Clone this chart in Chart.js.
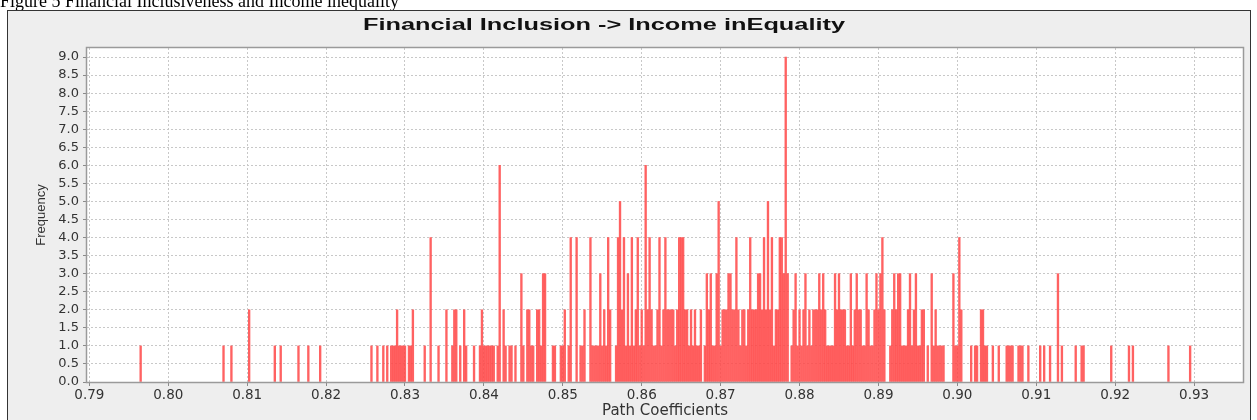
<!DOCTYPE html>
<html>
<head>
<meta charset="utf-8">
<script src="https://cdn.jsdelivr.net/npm/chart.js@4.4.0/dist/chart.umd.min.js"></script>
<style>
  html, body { margin: 0; padding: 0; background: #fff; }
  #wrap { position: relative; width: 1257px; height: 420px; }
</style>
</head>
<body>
<div id="wrap"><canvas id="histograma" width="1257" height="420"></canvas></div>
<script>
// Coeficientes de caminho (centro de cada classe) e frequência observada
const pathCoef = [
  0.7965, 0.8070, 0.8080, 0.81025, 0.8135, 0.81425, 0.8165, 0.81775, 0.81925,
  0.82575, 0.8265, 0.82725, 0.82775, 0.82825, 0.8285, 0.82875, 0.829, 0.82925, 0.8295, 0.82975,
  0.830, 0.8305, 0.83075, 0.831, 0.8325, 0.83325, 0.83425, 0.83525, 0.836, 0.83625, 0.8365,
  0.837, 0.8375, 0.83775, 0.83875, 0.8395, 0.83975, 0.840, 0.84025, 0.8405, 0.84075, 0.841,
  0.84125, 0.84175, 0.842, 0.8425, 0.84275, 0.84325, 0.8435, 0.844, 0.84475, 0.845, 0.8455,
  0.84575, 0.846, 0.84625, 0.84675, 0.847, 0.84725, 0.8475, 0.84775, 0.84875, 0.849, 0.84975,
  0.850, 0.85025, 0.85075, 0.851, 0.85175, 0.85225, 0.8525, 0.85275, 0.8535, 0.85375, 0.854,
  0.85425, 0.8545, 0.85475, 0.855, 0.85525, 0.8555, 0.85575, 0.856, 0.85675, 0.857, 0.85725,
  0.8575, 0.85775, 0.858, 0.85825, 0.8585, 0.85875, 0.859, 0.85925, 0.8595, 0.85975, 0.860,
  0.86025, 0.8605, 0.86075, 0.861, 0.86125, 0.8615, 0.86175, 0.862, 0.86225, 0.8625, 0.86275,
  0.863, 0.86325, 0.8635, 0.86375, 0.864, 0.86425, 0.8645, 0.86475, 0.865, 0.86525, 0.8655,
  0.86575, 0.866, 0.86625, 0.8665, 0.86675, 0.867, 0.86725, 0.8675, 0.868, 0.86825, 0.8685,
  0.86875, 0.869, 0.86925, 0.8695, 0.86975, 0.870, 0.87025, 0.8705, 0.87075, 0.871, 0.87125,
  0.8715, 0.87175, 0.872, 0.87225, 0.8725, 0.87275, 0.873, 0.87325, 0.8735, 0.87375, 0.874,
  0.87425, 0.8745, 0.87475, 0.875, 0.87525, 0.8755, 0.87575, 0.876, 0.87625, 0.8765, 0.87675,
  0.877, 0.87725, 0.8775, 0.87775, 0.878, 0.87825, 0.8785, 0.879, 0.87925, 0.8795, 0.87975,
  0.880, 0.88025, 0.8805, 0.88075, 0.881, 0.88125, 0.8815, 0.88175, 0.882, 0.88225, 0.8825,
  0.88275, 0.883, 0.88325, 0.8835, 0.88375, 0.884, 0.88425, 0.8845, 0.88475, 0.885, 0.88525,
  0.8855, 0.88575, 0.886, 0.88625, 0.8865, 0.88675, 0.887, 0.88725, 0.8875, 0.88775, 0.888,
  0.88825, 0.8885, 0.88875, 0.889, 0.88925, 0.8895, 0.88975, 0.890, 0.89025, 0.8905, 0.89075,
  0.8915, 0.89175, 0.892, 0.89225, 0.8925, 0.89275, 0.893, 0.89325, 0.8935, 0.89375, 0.894,
  0.89425, 0.8945, 0.89475, 0.895, 0.89525, 0.8955, 0.89575, 0.89625, 0.89675, 0.897, 0.89725,
  0.8975, 0.89775, 0.898, 0.89825, 0.8995, 0.89975, 0.900, 0.90025, 0.9005, 0.90175, 0.90225,
  0.9025, 0.903, 0.90325, 0.9035, 0.90375, 0.9045, 0.90525, 0.90625, 0.9065, 0.90675, 0.907,
  0.90775, 0.908, 0.90825, 0.909, 0.9105, 0.911, 0.91175, 0.91275, 0.91325, 0.915, 0.91575,
  0.916, 0.9195, 0.92175, 0.92225, 0.92675, 0.9295
];

const frequencia = [
  1, 1, 1, 2, 1, 1, 1, 1, 1,
  1, 1, 1, 1, 1, 1, 1, 2, 1, 1, 1,
  1, 1, 1, 2, 1, 4, 1, 2, 1, 2, 2,
  1, 2, 1, 1, 1, 2, 1, 1, 1, 1, 1,
  1, 1, 6, 2, 1, 1, 1, 1, 3, 1, 2,
  2, 1, 1, 2, 2, 1, 3, 3, 1, 1, 1,
  1, 2, 1, 4, 4, 1, 1, 2, 4, 1, 1,
  1, 1, 3, 1, 2, 1, 4, 2, 1, 4, 5,
  2, 4, 1, 3, 1, 4, 1, 2, 4, 1, 2,
  1, 6, 2, 4, 2, 1, 1, 2, 4, 1, 2,
  4, 2, 2, 2, 2, 1, 2, 4, 4, 4, 2,
  2, 1, 2, 1, 2, 1, 1, 2, 1, 3, 2,
  3, 1, 1, 3, 5, 1, 2, 2, 2, 3, 3,
  2, 2, 4, 2, 1, 2, 2, 1, 2, 4, 2,
  2, 2, 3, 3, 2, 4, 2, 5, 2, 4, 1,
  2, 2, 4, 4, 3, 9, 3, 1, 2, 3, 1,
  2, 1, 2, 3, 1, 2, 1, 2, 2, 2, 3,
  2, 3, 2, 1, 1, 1, 1, 3, 2, 3, 2,
  2, 2, 1, 1, 3, 1, 2, 3, 2, 2, 1,
  1, 3, 2, 1, 1, 2, 3, 2, 3, 4, 2,
  1, 2, 3, 2, 3, 3, 1, 1, 1, 2, 3,
  1, 2, 3, 1, 1, 2, 2, 1, 3, 1, 2,
  1, 1, 1, 1, 3, 1, 1, 4, 2, 1, 1,
  1, 2, 2, 1, 1, 1, 1, 1, 1, 1, 1,
  1, 1, 1, 1, 1, 1, 1, 3, 1, 1, 1,
  1, 1, 1, 1, 1, 1
];

// Marcas dos eixos
const ticksX = [0.79, 0.80, 0.81, 0.82, 0.83, 0.84, 0.85, 0.86, 0.87, 0.88, 0.89, 0.90, 0.91, 0.92, 0.93];
const ticksY = [0, 0.5, 1, 1.5, 2, 2.5, 3, 3.5, 4, 4.5, 5, 5.5, 6, 6.5, 7, 7.5, 8, 8.5, 9];

const tituloGrafico = 'Financial Inclusion -> Income inEquality';
const legendaFigura = 'Figure 5 Financial Inclusiveness and Income inequality';

// Moldura cinza, legenda da figura, fundo branco do gráfico e título
const molduraPlugin = {
  id: 'moldura',
  beforeDraw(chart) {
    const { ctx, chartArea: a } = chart;
    ctx.save();
    ctx.fillStyle = '#ffffff';
    ctx.fillRect(0, 0, chart.width, chart.height);

    ctx.fillStyle = '#000';
    ctx.font = '18px "Liberation Serif", "Times New Roman", serif';
    ctx.textBaseline = 'alphabetic';
    ctx.textAlign = 'left';
    ctx.fillText(legendaFigura, 0, 7);

    ctx.fillStyle = '#eeeeee';
    ctx.fillRect(7, 10, 1243, 420);
    ctx.strokeStyle = '#333';
    ctx.lineWidth = 1;
    ctx.strokeRect(7.5, 10.5, 1243, 420);

    ctx.fillStyle = '#ffffff';
    ctx.fillRect(a.left, a.top, a.right - a.left, a.bottom - a.top);

    // título esticado na horizontal até ~482px
    ctx.font = 'bold 16px "Liberation Sans", Arial, sans-serif';
    const largura = ctx.measureText(tituloGrafico).width;
    ctx.translate(604, 26);
    ctx.scale(482 / largura, 1);
    ctx.fillStyle = '#111';
    ctx.textAlign = 'center';
    ctx.textBaseline = 'middle';
    ctx.fillText(tituloGrafico, 0, 0);
    ctx.restore();
  },
  afterDatasetsDraw(chart) {
    const { ctx, chartArea: a } = chart;
    ctx.save();
    ctx.strokeStyle = '#9a9a9a';
    ctx.lineWidth = 1.5;
    ctx.strokeRect(a.left - 0.5, a.top - 0.5, a.right - a.left + 1, a.bottom - a.top + 1);
    ctx.restore();
  }
};

function criarGrafico() {
  const ctx = document.getElementById('histograma').getContext('2d');

  new Chart(ctx, {
    type: 'bar',
    data: {
      datasets: [{
        label: 'Frequency',
        data: pathCoef.map((x, i) => ({ x: x, y: frequencia[i] })),
        backgroundColor: 'rgba(255, 70, 70, 0.85)',
        borderWidth: 0,
        barThickness: 1.7
      }]
    },
    options: {
      responsive: false,
      animation: false,
      devicePixelRatio: 1,
      layout: { padding: { left: 34, right: 14, top: 48, bottom: 0 } },
      plugins: {
        legend: { display: false },
        tooltip: { enabled: false },
        title: { display: false }
      },
      scales: {
        x: {
          type: 'linear',
          offset: false,
          min: 0.7897,
          max: 0.9362,
          afterBuildTicks: axis => { axis.ticks = ticksX.map(v => ({ value: v })); },
          afterFit: axis => { axis.height = 38; },
          grid: {
            offset: false,
            color: '#c8c8c8',
            tickColor: '#8a8a8a',
            tickLength: 4,
            tickBorderDash: []
          },
          border: { display: false, dash: [2, 2] },
          ticks: {
            autoSkip: false,
            maxRotation: 0,
            padding: 1,
            color: '#333',
            font: { family: '"DejaVu Sans", Verdana, sans-serif', size: 13.5 },
            callback: v => Number(v).toFixed(2)
          },
          title: {
            display: true,
            text: 'Path Coefficients',
            color: '#333',
            padding: 0,
            font: { family: '"DejaVu Sans", Verdana, sans-serif', size: 15 }
          }
        },
        y: {
          min: 0,
          max: 9.25,
          afterBuildTicks: axis => { axis.ticks = ticksY.map(v => ({ value: v })); },
          afterFit: axis => { axis.width = 53; },
          grid: {
            color: '#c8c8c8',
            tickColor: '#8a8a8a',
            tickLength: 4,
            tickBorderDash: []
          },
          border: { display: false, dash: [2, 2] },
          ticks: {
            autoSkip: false,
            padding: 4,
            color: '#333',
            font: { family: '"DejaVu Sans", Verdana, sans-serif', size: 13 },
            callback: v => Number(v).toFixed(1)
          },
          title: {
            display: true,
            text: 'Frequency',
            color: '#333',
            padding: 0,
            font: { family: '"Liberation Sans", Arial, sans-serif', size: 13 }
          }
        }
      }
    },
    plugins: [molduraPlugin]
  });
}

document.addEventListener('DOMContentLoaded', criarGrafico);
</script>
</body>
</html>
